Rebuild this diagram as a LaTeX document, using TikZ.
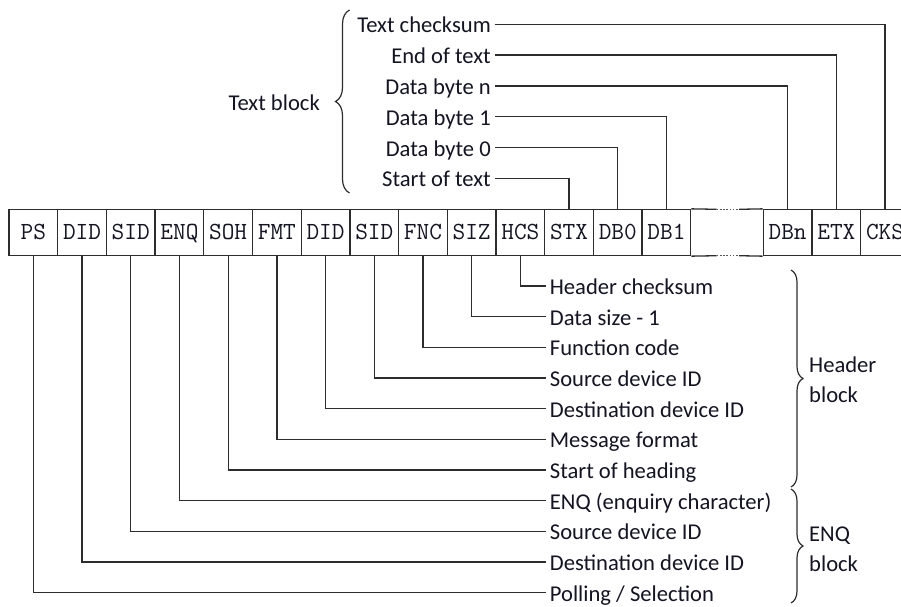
\documentclass[tikz,border=0pt]{standalone}
\usepackage{fontspec}
\setmainfont{Carlito}
\usetikzlibrary{decorations.pathreplacing}
\definecolor{ink}{RGB}{45,45,45}
\definecolor{txt}{RGB}{20,20,35}
\begin{document}
\begin{tikzpicture}[x=1pt,y=-1pt,
  wire/.style={draw=ink, line width=1.3pt},
  cell/.style={draw=ink, line width=1.3pt, minimum width=48.7pt, minimum height=46pt,
    inner sep=0pt, text height=14.5pt, text depth=0pt, text=txt,
    font=\ttfamily\fontsize{24.6}{24.6}\selectfont},
  lbl/.style={text=txt, inner sep=4pt, text height=17.2pt, text depth=0pt,
    font=\fontsize{22.6}{26}\selectfont},
  blocklbl/.style={text=txt, inner sep=0pt, align=left,
    font=\fontsize{22.6}{30}\selectfont},
  bracewire/.style={draw=ink, line width=1.2pt, decorate,
    decoration={brace, amplitude=#1}}]
\clip (0,0) rectangle (901,606);
\fill[white] (0,0) rectangle (901,606);

% frame cells
\foreach \n/\t [count=\i from 0] in {ps/PS, did1/DID, sid1/SID, enq/ENQ, soh/SOH,
    fmt/FMT, did2/DID, sid2/SID, fnc/FNC, siz/SIZ, hcs/HCS, stx/STX, dbz/DB0, dbo/DB1}
  \node[cell] (\n) at ({33.35+48.7*\i},232.5) {\t};
\node[minimum width=72.6pt, minimum height=46pt, inner sep=0pt] (gap) at (727,232.5) {};
\foreach \n/\t [count=\i from 0] in {dbn/DBn, etx/ETX, cks/CKS}
  \node[cell] (\n) at ({787.65+48.7*\i},232.5) {\t};

% elided data bytes
\draw[wire] (dbo.north east) -- ([xshift=-10.3pt]gap.north);
\draw[wire] ([xshift=12pt]gap.north) -- (dbn.north west);
\draw[wire] (dbo.south east) -- ([xshift=-10.3pt]gap.south);
\draw[wire] ([xshift=12pt]gap.south) -- (dbn.south west);
\draw[ink!80, line width=1.3pt, dash pattern=on 1.6pt off 1.6pt]
  ([xshift=-10.3pt]gap.north) -- ([xshift=12pt]gap.north);
\draw[ink!80, line width=1.3pt, dash pattern=on 1.6pt off 1.6pt]
  ([xshift=-10.3pt]gap.south) -- ([xshift=12pt]gap.south);

% header and ENQ fields
\foreach \n/\t [count=\i from 0] in {ps/{Polling / Selection}, did1/{Destination device ID},
    sid1/{Source device ID}, enq/{ENQ (enquiry character)}, soh/{Start of heading},
    fmt/{Message format}, did2/{Destination device ID}, sid2/{Source device ID},
    fnc/{Function code}, siz/{Data size - 1}, hcs/{Header checksum}} {
  \node[lbl, anchor=west] (l\n) at (545.7,{592.5-30.65*\i}) {\t};
  \draw[wire] (\n.south) |- (l\n.west);
}

% text fields
\foreach \n/\t [count=\i from 0] in {cks/{Text checksum}, etx/{End of text},
    dbn/{Data byte n}, dbo/{Data byte 1}, dbz/{Data byte 0}, stx/{Start of text}} {
  \node[lbl, anchor=east] (t\n) at (495,{24.3+30.8*\i}) {\t};
  \draw[wire] (t\n.east) -| (\n.north);
}

% block braces
\draw[bracewire=14pt] (349.5,193) -- (349.5,10);
\node[lbl, anchor=east] (textblock) at (324,101.5) {Text block};
\draw[bracewire=12pt] (791,270) -- (791,487);
\node[blocklbl, anchor=base west] (hdrblock) at (809,402) {Header\\block};
\draw[bracewire=12pt] (791,489) -- (791,603);
\node[blocklbl, anchor=base west] (enqblock) at (809,571) {ENQ\\block};
\end{tikzpicture}
\end{document}
